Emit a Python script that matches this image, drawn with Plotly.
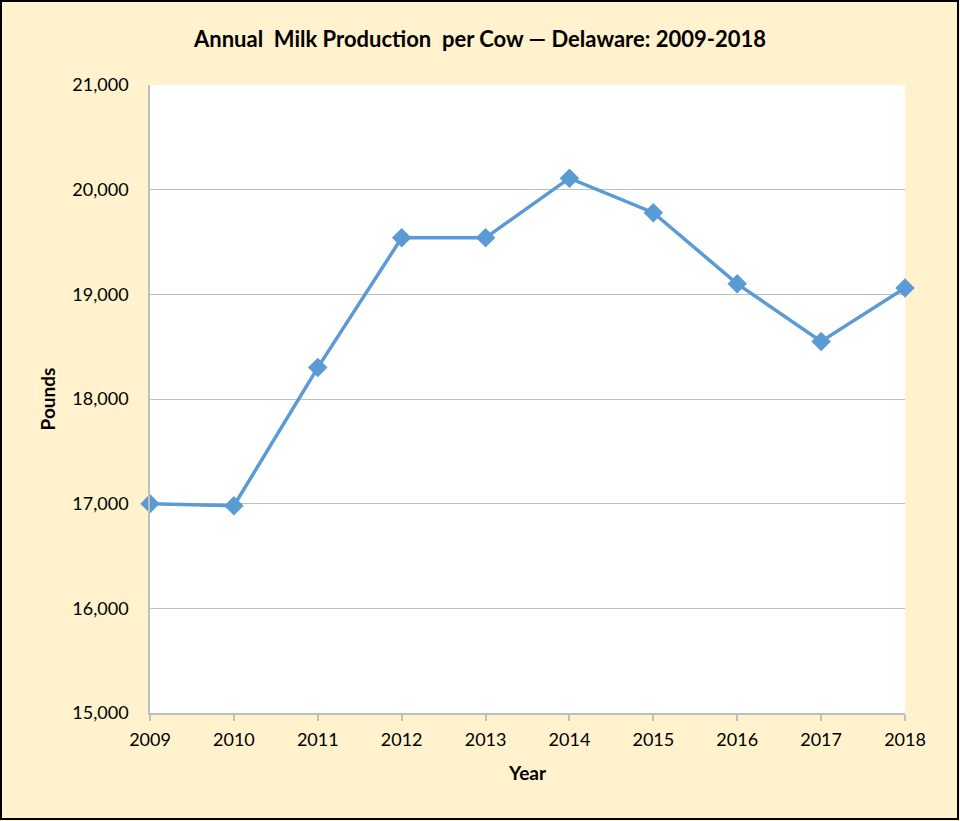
import plotly.graph_objects as go

years = [2009, 2010, 2011, 2012, 2013, 2014, 2015, 2016, 2017, 2018]
pounds = [17000, 16980, 18300, 19540, 19540, 20110, 19780, 19100, 18550, 19060]
y_ticks = [15000, 16000, 17000, 18000, 19000, 20000, 21000]

W, H = 960, 821
L, R, T, B = 150, 55, 85, 108
pw, ph = W - L - R, H - T - B

fig = go.Figure()
fig.add_trace(go.Scatter(
    x=years, y=pounds, mode="lines+markers",
    line=dict(color="#5B9BD5", width=3.5),
    marker=dict(symbol="diamond", size=15, color="#5B9BD5"),
    hoverinfo="x+y", cliponaxis=False,
))

font = "Lato, Calibri, 'Open Sans', sans-serif"
fig.update_layout(
    width=W, height=H,
    margin=dict(l=L, r=R, t=T, b=B),
    paper_bgcolor="#FFF2CC",
    plot_bgcolor="#FFFFFF",
    showlegend=False,
    font=dict(family=font, color="#000000", size=18),
    title=dict(text="<b>Annual  Milk Production  per Cow — Delaware: 2009-2018</b>",
               x=0.5, xanchor="center", y=1 - 39 / H, yanchor="middle",
               font=dict(size=22, family=font)),
    xaxis=dict(range=[2009, 2018], tickvals=years, ticktext=[str(y) for y in years],
               showgrid=False, zeroline=False, showline=True, linecolor="#BFBFBF", linewidth=1.5,
               ticks="outside", ticklen=6, tickcolor="#BFBFBF", tickwidth=1.5,
               tickfont=dict(size=18), ticklabelstandoff=4,
               title=dict(text="<b>Year</b>", font=dict(size=19), standoff=17)),
    yaxis=dict(range=[15000, 21000], tickvals=y_ticks, tickformat=",",
               showgrid=True, gridcolor="#BFBFBF", gridwidth=1, zeroline=False,
               showline=True, linecolor="#BFBFBF", linewidth=1.5,
               ticks="", tickfont=dict(size=18), ticklabelstandoff=16,
               title=dict(text="<b>Pounds</b>", font=dict(size=19), standoff=12)),
    shapes=[dict(type="rect", xref="paper", yref="paper",
                 x0=(1 - L) / pw, x1=(W - 2 - L) / pw,
                 y0=(H - B - (H - 2)) / ph, y1=(H - B - 1) / ph,
                 line=dict(color="#000000", width=2), fillcolor="rgba(0,0,0,0)", layer="above")],
)

fig.write_html("out.html", config={"displayModeBar": False},
               post_script="document.body.style.margin='0';document.body.style.overflow='hidden';")
